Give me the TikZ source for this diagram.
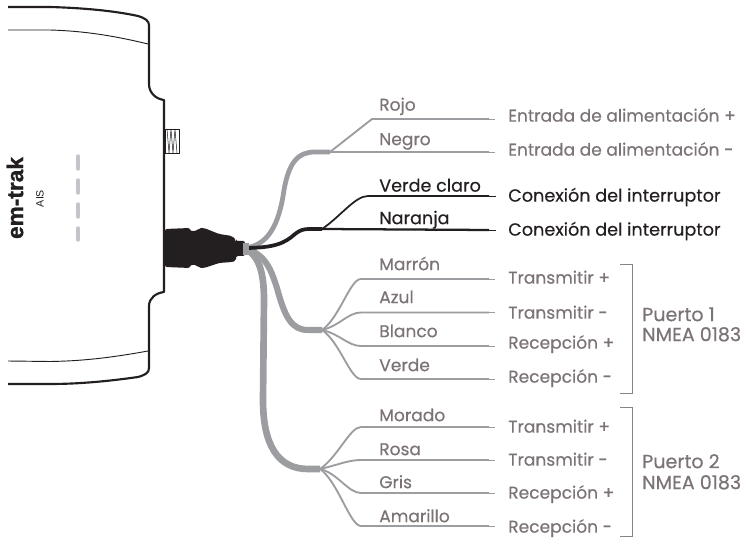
\documentclass[tikz,border=0pt]{standalone}
\usepackage{fontspec}
\setmainfont{Poppins}[RawFeature={embolden=0.35}]
\newfontfamily\heavy{Liberation Sans}[BoldFont={Liberation Sans Bold},BoldFeatures={RawFeature={embolden=1.2}}]
\definecolor{txtgray}{HTML}{7B7374}
\definecolor{ink}{HTML}{231F20}
\definecolor{wire}{HTML}{9C9DA0}
\definecolor{ledgray}{HTML}{C4C5CA}
\tikzset{
  x=0.75pt,y=-0.75pt,
  lab/.style={font=\fontsize{12.8pt}{14pt}\selectfont,text=txtgray,anchor=mid west,inner sep=0pt},
  labk/.style={lab,font=\fontsize{13.2pt}{14pt}\selectfont,text=ink},
  labp/.style={lab,font=\fontsize{14.3pt}{15pt}\selectfont},
  body/.style={draw=ink,line width=1.6pt,line join=round},
  thin body/.style={draw=ink,line width=0.7pt},
  thickwire/.style={draw=wire,line width=3.6pt,line cap=butt},
  leadwire/.style={draw=wire,line width=1.4pt,line join=round},
  tail/.style={draw=wire,line width=0.5pt},
  kthick/.style={draw=ink,line width=2.8pt},
  klead/.style={draw=ink,line width=1.3pt,line join=round},
  ktail/.style={draw=ink,line width=0.5pt},
  brk/.style={draw=wire!85!black,line width=0.7pt},
  led/.style={draw=ledgray,line width=2.6pt,line cap=round},
}
\begin{document}
\begin{tikzpicture}
\useasboundingbox (0,0) rectangle (746,538);
% casing
\draw[body] (8,7) -- (50,7) .. controls (85,8) and (115,11) .. (138,16) .. controls (145,18) and (149,21) .. (149,25)
  -- (149,84) .. controls (149,93) and (156,99) .. (164,100) -- (164,292)
  .. controls (156,293) and (149,298) .. (149,306) -- (149,368) .. controls (149,373) and (145,375) .. (138,377)
  .. controls (110,381) and (80,384) .. (50,384) -- (8,384);
\draw[thin body] (8,30) -- (50,30) .. controls (85,31) and (115,36) .. (148,44);
\draw[thin body] (8,361) -- (50,361.5) .. controls (85,361) and (115,357) .. (148,351);
% screw
\draw[draw=ink,line width=0.5pt] (165,129) rectangle (179,153);
\draw[draw=ink,line width=0.4pt] (167,129) -- (169,153) -- (171,129) -- (173,153) -- (175,129) -- (177,153);
% lamps
\draw[led] (78,156) -- (78,169);
\draw[led] (78,180) -- (78,193);
\draw[led] (78,204) -- (78,217);
\draw[led] (78,228) -- (78,240);
% brand
\node[rotate=90,inner sep=0pt,text=ink] (brand) at (15,198) {\heavy\fontsize{17pt}{18pt}\selectfont\bfseries em-trak};
\node[rotate=90,inner sep=0pt,text=ink] (ais) at (40,198.5) {\heavy\fontsize{8pt}{9pt}\selectfont AIS};
% wire hubs
\coordinate (root) at (244,248);
\coordinate (hubA) at (330,152);
\coordinate (hubB) at (322,229);
\coordinate (hubC) at (322,330);
\coordinate (hubD) at (320,469);
% labels right
\node[lab] (r1) at (508,118) {Entrada de alimentación +};
\node[lab] (r2) at (508,152) {Entrada de alimentación -};
\node[labk] (r3) at (508,198) {Conexión del interruptor};
\node[labk] (r4) at (508,232) {Conexión del interruptor};
\node[lab] (r5) at (508,280) {Transmitir +};
\node[lab] (r6) at (508,315) {Transmitir -};
\node[lab] (r7) at (508,345) {Recepción +};
\node[lab] (r8) at (508,379) {Recepción -};
\node[lab] (r9) at (508,429) {Transmitir +};
\node[lab] (r10) at (508,462) {Transmitir -};
\node[lab] (r11) at (508,495) {Recepción +};
\node[lab] (r12) at (508,529) {Recepción -};
% wire colour labels
\node[lab] (c1) at (379,107) {Rojo};
\node[lab] (c2) at (379,141.5) {Negro};
\node[labk] (c3) at (379,188) {Verde claro};
\node[labk] (c4) at (379,220.5) {Naranja};
\node[lab] (c5) at (379,266.5) {Marrón};
\node[lab] (c6) at (379,299.5) {Azul};
\node[lab] (c7) at (379,333.5) {Blanco};
\node[lab] (c8) at (379,367.5) {Verde};
\node[lab] (c9) at (379,417.5) {Morado};
\node[lab] (c10) at (379,451.5) {Rosa};
\node[lab] (c11) at (379,484.5) {Gris};
\node[lab] (c12) at (379,518.5) {Amarillo};
% ports
\node[labp] (p1) at (642,317.5) {Puerto 1};
\node[labp] (p1b) at (642,337.5) {NMEA 0183};
\node[labp] (p2) at (642,464.5) {Puerto 2};
\node[labp] (p2b) at (642,485.5) {NMEA 0183};
% trunks
\draw[thickwire] (root) .. controls (268,246) and (279,225) .. (284,190) .. controls (289,162) and (298,152) .. (315,152) -- (hubA);
\draw[thickwire,line width=4.6pt] (root) .. controls (266,254) and (271,270) .. (277,288) .. controls (285,318) and (292,330) .. (308,330) -- (hubC);
\draw[thickwire,line width=5pt] (root) .. controls (257,254) and (264,268) .. (264,300) -- (263,400) .. controls (263,445) and (278,469) .. (308,469) -- (hubD);
\draw[kthick] (root) .. controls (275,248) and (285,243) .. (295,234) .. controls (300,230) and (304,229) .. (309,229) -- (hubB);
% connector
\fill[ink,rounded corners=1.5pt] (165,229) -- (190,228) -- (190,231) -- (197,231) -- (199,228) -- (204,228)
  -- (219,234) -- (232,236) -- (236,240) -- (236,241) -- (245,241) -- (245,256) -- (236,256) -- (236,261) -- (232,262)
  -- (219,263) -- (204,268) -- (199,268) -- (197,265) -- (190,265) -- (190,268) -- (165,267) -- cycle;
\fill[wire] (243,243) rectangle (249,255);
% gray leads
\coordinate (e1) at (489,119); \coordinate (e2) at (489,152);
\draw[leadwire] (hubA) -- (372,119) -- (e1);
\draw[leadwire] (hubA) -- (e2);
\draw[tail] (e1) -- (495,119); \draw[tail] (e2) -- (495,152);
\coordinate (e3) at (489,196); \coordinate (e4) at (489,230);
\draw[klead] (hubB) .. controls (340,217) and (355,196) .. (368,196) -- (e3);
\draw[klead,line width=1.7pt] (hubB) -- (e4);
\draw[ktail] (e3) -- (496,196); \draw[ktail] (e4) -- (496,230);
\foreach \n/\y/\a/\b in {5/279/340/350,6/312.5/340/348,7/346/340/348,8/379/340/350}{
  \coordinate (e\n) at (489,\y);
  \draw[leadwire] (hubC) .. controls (\a,330+0.25*\y-82.5) and (\b,\y) .. (361,\y) -- (e\n);
  \draw[tail] (e\n) -- (495,\y);
}
\foreach \n/\y/\a/\b in {9/427/338/350,10/460/338/348,11/493/338/348,12/526/338/350}{
  \coordinate (e\n) at (489,\y);
  \draw[leadwire] (hubD) .. controls (\a,469+0.25*\y-119) and (\b,\y) .. (361,\y) -- (e\n);
  \draw[tail] (e\n) -- (495,\y);
}
% brackets
\draw[brk] (620,264) -- (632,264) -- (632,393.5) -- (620,393.5);
\draw[brk] (620,407) -- (632,407) -- (632,536.5) -- (620,536.5);
\end{tikzpicture}
\end{document}
